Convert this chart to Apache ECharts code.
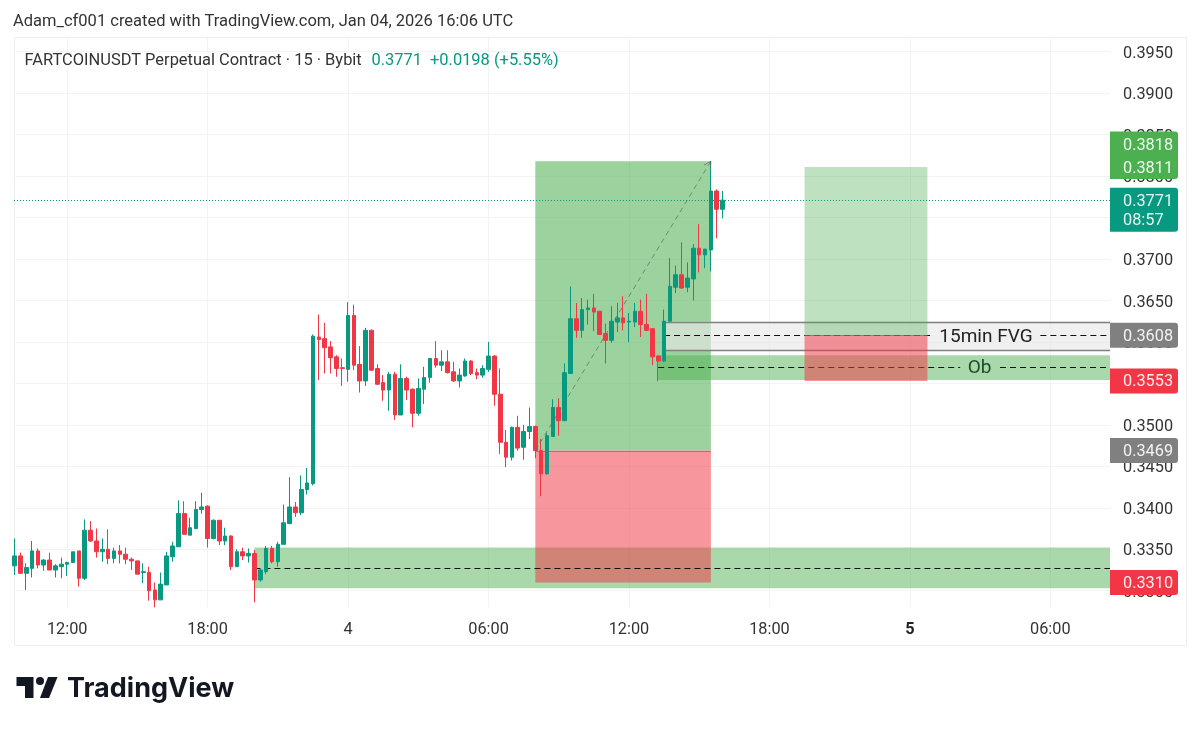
<!DOCTYPE html>
<html>
<head>
<meta charset="utf-8">
<style>html,body{margin:0;padding:0;background:#fff}#chart{width:1200px;height:729px}</style>
<script src="https://cdn.jsdelivr.net/npm/echarts@6/dist/echarts.min.js"></script>
</head>
<body>
<div id="chart"></div>
<script>
// OHLC of the 15-minute candles, index 0 = Jan 3 09:45
const opens = [.3330,.3342,.3321,.3327,.3348,.3331,.3337,.3325,.3329,.3332,.3334,.3348,.3315,.3373,.3360,.3347,.3350,.3339,.3348,.3344,.3338,.3336,.3322,.3322,.3301,.3289,.3307,.3341,.3353,.3393,.3367,.3375,.3398,.3402,.3363,.3385,.3360,.3366,.3329,.3347,.3342,.3345,.3313,.3323,.3351,.3335,.3356,.3381,.3401,.3394,.3422,
.3429,.3606,.3604,.3594,.3582,.3569,.3567,.3632,.3573,.3553,.3614,.3568,.3551,.3542,.3561,.3512,.3556,.3543,.3514,.3543,.3557,.3580,.3572,.3576,.3564,.3553,.3559,.3577,.3563,.3560,.3567,.3583,.3537,.3479,.3461,.3497,.3473,.3492,.3498,
.3469,.3441,.3486,.3521,.3505,.3562,.3628,.3614,.3639,.3641,.3637,.3610,.3602,.3624,.3629,.3624,.3624,.3637,.3621,.3616,.3583,.3577,.3625,.3666,.3681,.3666,.3676,.3713,.3705,.3711,.3782,.3760];
const closes = [.3342,.3321,.3328,.3348,.3331,.3337,.3325,.3330,.3332,.3334,.3347,.3315,.3373,.3360,.3347,.3350,.3339,.3348,.3344,.3338,.3336,.3320,.3323,.3300,.3289,.3308,.3342,.3354,.3393,.3368,.3376,.3398,.3401,.3363,.3385,.3360,.3366,.3329,.3347,.3342,.3345,.3313,.3325,.3351,.3335,.3356,.3382,.3401,.3394,.3422,.3430,
.3607,.3603,.3593,.3581,.3568,.3568,.3632,.3572,.3553,.3614,.3566,.3549,.3542,.3561,.3512,.3556,.3542,.3514,.3544,.3557,.3580,.3572,.3576,.3563,.3553,.3560,.3577,.3562,.3560,.3568,.3583,.3537,.3479,.3461,.3497,.3472,.3492,.3498,.3469,
.3441,.3487,.3521,.3505,.3563,.3628,.3614,.3639,.3641,.3636,.3609,.3602,.3625,.3629,.3623,.3625,.3637,.3621,.3614,.3582,.3577,.3625,.3667,.3681,.3665,.3677,.3713,.3705,.3712,.3782,.3760,.3771];
const lows = [.3319,.3321,.3301,.3316,.3327,.3324,.3325,.3316,.3315,.3318,.3334,.3305,.3313,.3359,.3340,.3335,.3332,.3333,.3333,.3332,.3325,.3320,.3309,.3288,.3280,.3289,.3307,.3335,.3353,.3368,.3367,.3374,.3393,.3352,.3362,.3355,.3355,.3325,.3329,.3337,.3334,.3286,.3311,.3320,.3333,.3329,.3356,.3380,.3389,.3391,.3416,
.3427,.3554,.3562,.3562,.3558,.3547,.3552,.3566,.3539,.3547,.3565,.3548,.3529,.3517,.3506,.3512,.3530,.3497,.3511,.3525,.3551,.3569,.3565,.3562,.3552,.3545,.3558,.3560,.3555,.3557,.3564,.3523,.3465,.3449,.3457,.3469,.3458,.3483,.3460,
.3414,.3440,.3486,.3487,.3505,.3562,.3605,.3605,.3621,.3613,.3609,.3574,.3599,.3612,.3614,.3600,.3618,.3606,.3613,.3572,.3553,.3576,.3625,.3659,.3664,.3660,.3650,.3684,.3689,.3685,.3725,.3749];
const highs = [.3363,.3346,.3333,.3360,.3351,.3338,.3346,.3332,.3340,.3335,.3347,.3348,.3386,.3384,.3375,.3363,.3374,.3352,.3355,.3352,.3340,.3336,.3333,.3329,.3310,.3322,.3347,.3359,.3409,.3408,.3388,.3408,.3418,.3403,.3386,.3385,.3376,.3367,.3350,.3352,.3351,.3349,.3326,.3354,.3354,.3359,.3404,.3437,.3407,.3439,.3448,
.3609,.3633,.3623,.3601,.3584,.3580,.3648,.3645,.3595,.3617,.3615,.3573,.3560,.3564,.3564,.3573,.3558,.3544,.3556,.3570,.3580,.3601,.3590,.3590,.3576,.3568,.3580,.3578,.3568,.3572,.3600,.3584,.3568,.3494,.3498,.3511,.3500,.3521,.3499,
.3483,.3490,.3531,.3532,.3574,.3667,.3647,.3653,.3651,.3658,.3637,.3622,.3643,.3647,.3655,.3635,.3647,.3651,.3658,.3616,.3584,.3639,.3701,.3692,.3720,.3696,.3718,.3742,.3712,.3818,.3784,.3782];

// Time axis (candle slot of each label)
const timeTicks = [9,33,57,81,105,129,153,177];
const timeLabels = ['12:00','18:00','4','06:00','12:00','18:00','5','06:00'];
// Price axis
const priceTicks = [.33,.335,.34,.345,.35,.355,.36,.365,.37,.375,.38,.385,.39,.395];

// Drawings: [fromSlot, toSlot, priceTop, priceBottom]
const SLOT_MIN = -0.085, SLOT_MAX = 187.2, PRICE_MIN = .32804, PRICE_MAX = .39677;
const demandZone = [[41, SLOT_MAX, .3352, .3303]];
const obZone = [[110, SLOT_MAX, .3584, .3554]];
const fvgZone = [[111, SLOT_MAX, .36246, .3590]];
const fvgEdges = [[111, SLOT_MAX, .36246], [111, SLOT_MAX, .3590]];
const positionAProfit = [[89, 119, .3818, .3469]];
const positionALoss = [[89, 119, .3469, .3310]];
const positionAEntry = [[89, 119, .3469]];
const positionBProfit = [[135, 156, .3811, .3608]];
const positionBLoss = [[135, 156, .3608, .3553]];
const positionBEntry = [[135, 156, .3608]];
// Midlines: [fromSlot, toSlot, price]
const midlines = [[41, SLOT_MAX, .3327], [111, 156.5, .3608], [175.3, SLOT_MAX, .3608], [110, 161.6, .3570], [168.4, SLOT_MAX, .3570]];
const lastPrice = .3771;
const lastPriceLine = [[SLOT_MIN, SLOT_MAX, lastPrice]];
const trendLine = [[89, .3469, 119, .3818]];
const zoneTexts = ['15min FVG', 'Ob'];
const zoneTextAnchors = [[166, .3608], [164.9, .3570]];
const singleTags = [.3608, .3553, .3469, .3310];
const singleTagKinds = ['gray', 'red', 'gray', 'red'];
const targetTag = ['0.3818', '0.3811'];
const targetTagPrice = .3811;
const lastTag = ['0.3771', '08:57'];

const FONT = 'Roboto';
const UP = '#089981', DOWN = '#f23645';
const candles = opens.map((o, i) => [i, o, closes[i], lows[i], highs[i]]);

function rectSeries(name, rows, fill) {
  return { type: 'custom', name, silent: true, z: 2, data: rows, encode: { x: [0, 1], y: [2, 3] },
    renderItem: (p, api) => {
      const a = api.coord([api.value(0), api.value(2)]), b = api.coord([api.value(1), api.value(3)]);
      return { type: 'rect', shape: { x: a[0], y: a[1], width: b[0] - a[0], height: b[1] - a[1] }, style: { fill } };
    } };
}
function lineSeries(name, rows, stroke, lineWidth, lineDash) {
  return { type: 'custom', name, silent: true, z: 2, data: rows, encode: { x: [0, 1], y: 2 },
    renderItem: (p, api) => {
      const a = api.coord([api.value(0), api.value(2)]), b = api.coord([api.value(1), api.value(2)]);
      const y = Math.round(a[1]) + 0.5;
      return { type: 'line', shape: { x1: a[0], y1: y, x2: b[0], y2: y }, style: { stroke, lineWidth, lineDash: lineDash || null } };
    } };
}
function tagShape(x, y0, h, fill, lines, lineYs) {
  const kids = [{ type: 'rect', shape: { x, y: y0, width: 68, height: h, r: [0, 3, 3, 0] }, style: { fill } }];
  lines.forEach((t, i) => kids.push({ type: 'text', style: { text: t, x: x + 13, y: lineYs[i] + 1.5, fill: '#fff', opacity: .9,
    font: '16.3px ' + FONT, verticalAlign: 'middle' } }));
  return { type: 'group', children: kids };
}

const option = {
  animation: false,
  backgroundColor: '#fff',
  textStyle: { fontFamily: FONT },
  grid: { left: 14, top: 37, width: 1096, height: 570, containLabel: false },
  xAxis: { type: 'value', min: SLOT_MIN, max: SLOT_MAX, axisLine: { show: false },
    axisTick: { show: false, customValues: timeTicks },
    splitLine: { show: true, lineStyle: { color: '#f3f3f3', width: 1 } },
    axisLabel: { customValues: timeTicks, margin: 15, fontSize: 16.3, color: '#333', fontFamily: FONT,
      formatter: v => { const s = timeLabels[timeTicks.indexOf(v)]; return s === '5' ? '{b|5}' : s; },
      rich: { b: { fontWeight: 'bold', fontSize: 16.3, color: '#222', fontFamily: FONT } } } },
  yAxis: { type: 'value', position: 'right', min: PRICE_MIN, max: PRICE_MAX, scale: true, axisLine: { show: false },
    axisTick: { show: false, customValues: priceTicks },
    splitLine: { show: true, lineStyle: { color: '#f3f3f3', width: 1 } },
    axisLabel: { customValues: priceTicks, margin: 13, fontSize: 16.3, color: '#333', fontFamily: FONT,
      formatter: v => '{p|' + v.toFixed(4) + '}',
      rich: { p: { fontSize: 16.3, color: '#333', fontFamily: FONT, padding: [4, 0, 0, 0] } } } },
  graphic: [
    { type: 'rect', z: -1, silent: true, shape: { x: 14.5, y: 37.5, width: 1172, height: 608 }, style: { fill: 'none', stroke: '#eeeeee', lineWidth: 1 } },
    { type: 'text', z: 100, silent: true, x: 13, y: 21.5, style: { text: 'Adam_cf001 created with TradingView.com, Jan 04, 2026 16:06 UTC', font: '16.5px ' + FONT, fill: '#333', verticalAlign: 'middle' } },
    { type: 'text', z: 100, silent: true, x: 24.5, y: 60.5, style: { text: 'FARTCOINUSDT Perpetual Contract · 15 · Bybit', font: '16.45px ' + FONT, fill: '#333', verticalAlign: 'middle', backgroundColor: '#fff' } },
    { type: 'text', z: 100, silent: true, x: 371.5, y: 60.5, style: { text: '0.3771', font: '16.45px ' + FONT, fill: UP, verticalAlign: 'middle' } },
    { type: 'text', z: 100, silent: true, x: 430, y: 60.5, style: { text: '+0.0198 (+5.55%)', font: '16.45px ' + FONT, fill: UP, verticalAlign: 'middle' } },
    { type: 'polygon', silent: true, shape: { points: [[16.5, 677], [33.5, 677], [33.5, 698], [25, 698], [25, 686], [16.5, 686]] }, style: { fill: '#131722' } },
    { type: 'circle', silent: true, shape: { cx: 40, cy: 681, r: 4 }, style: { fill: '#131722' } },
    { type: 'polygon', silent: true, shape: { points: [[48, 677], [57.5, 677], [49, 698], [40, 698]] }, style: { fill: '#131722' } },
    { type: 'text', z: 100, silent: true, x: 67, y: 689, style: { text: 'TradingView', font: '700 27px Inter', fill: '#131722', verticalAlign: 'middle' } }
  ],
  series: [
    rectSeries('Demand zone', demandZone, 'rgba(76,175,80,.48)'),
    rectSeries('Position A profit', positionAProfit, 'rgba(76,175,80,.56)'),
    rectSeries('Position A loss', positionALoss, 'rgba(242,54,69,.52)'),
    lineSeries('Position A entry', positionAEntry, 'rgba(110,110,110,.7)', 1),
    rectSeries('FVG', fvgZone, 'rgba(232,232,232,.65)'),
    rectSeries('Ob', obZone, 'rgba(76,175,80,.48)'),
    lineSeries('FVG edges', fvgEdges, '#808080', 1.5),
    lineSeries('Midlines', midlines, '#111', 1, [6, 4]),
    rectSeries('Position B profit', positionBProfit, 'rgba(76,175,80,.36)'),
    rectSeries('Position B loss', positionBLoss, 'rgba(242,54,69,.52)'),
    lineSeries('Position B entry', positionBEntry, 'rgba(110,110,110,.7)', 1),
    lineSeries('Last price', lastPriceLine, UP, 1, [1, 2]),
    { type: 'candlestick', name: 'FARTCOINUSDT', silent: true, z: 4, data: candles, barWidth: 4.1,
      itemStyle: { color: UP, color0: DOWN, borderColor: UP, borderColor0: DOWN, borderWidth: 1 } },
    { type: 'custom', name: 'Trend', silent: true, z: 5, data: trendLine, encode: { x: [0, 2], y: [1, 3] },
      renderItem: (p, api) => {
        const a = api.coord([api.value(0), api.value(1)]), b = api.coord([api.value(2), api.value(3)]);
        const ang = Math.atan2(a[1] - b[1], a[0] - b[0]), L = 8;
        const wing = d => [b[0] + L * Math.cos(ang + d), b[1] + L * Math.sin(ang + d)];
        const w1 = wing(.5), w2 = wing(-.5);
        const st = { stroke: 'rgba(100,110,105,.75)', lineWidth: 1, fill: 'none' };
        return { type: 'group', children: [
          { type: 'line', shape: { x1: a[0], y1: a[1], x2: b[0], y2: b[1] }, style: { ...st, lineDash: [5, 4] } },
          { type: 'polyline', shape: { points: [w1, b, w2] }, style: st } ] };
      } },
    { type: 'custom', name: 'Zone text', silent: true, z: 3, data: zoneTextAnchors, encode: { x: 0, y: 1 },
      renderItem: (p, api) => {
        const c = api.coord([api.value(0), api.value(1)]);
        return { type: 'text', style: { text: zoneTexts[p.dataIndex], x: c[0], y: c[1] + 1.5, font: '19px ' + FONT,
          fill: p.dataIndex === 0 ? '#222' : '#1e4d2b', align: 'center', verticalAlign: 'middle' } };
      } },
    { type: 'custom', name: 'Price tags', silent: true, z: 6, data: singleTags.map(v => [SLOT_MAX, v]), encode: { x: 0, y: 1 },
      renderItem: (p, api) => {
        const c = api.coord([api.value(0), api.value(1)]);
        const fill = singleTagKinds[p.dataIndex] === 'red' ? DOWN : '#808080';
        return tagShape(c[0], c[1] - 12.5, 25, fill, [api.value(1).toFixed(4)], [c[1]]);
      } },
    { type: 'custom', name: 'Target tag', silent: true, z: 6, data: [[SLOT_MAX, targetTagPrice]], encode: { x: 0, y: 1 },
      renderItem: (p, api) => {
        const c = api.coord([api.value(0), api.value(1)]);
        return tagShape(c[0], c[1] - 35.5, 47.5, '#4caf50', targetTag, [c[1] - 23, c[1]]);
      } },
    { type: 'custom', name: 'Last tag', silent: true, z: 6, data: [[SLOT_MAX, lastPrice]], encode: { x: 0, y: 1 },
      renderItem: (p, api) => {
        const c = api.coord([api.value(0), api.value(1)]);
        return tagShape(c[0], c[1] - 12.5, 44, UP, lastTag, [c[1], c[1] + 19]);
      } }
  ]
};
echarts.init(document.getElementById('chart'), null, { renderer: 'canvas' }).setOption(option);
</script>
</body>
</html>
